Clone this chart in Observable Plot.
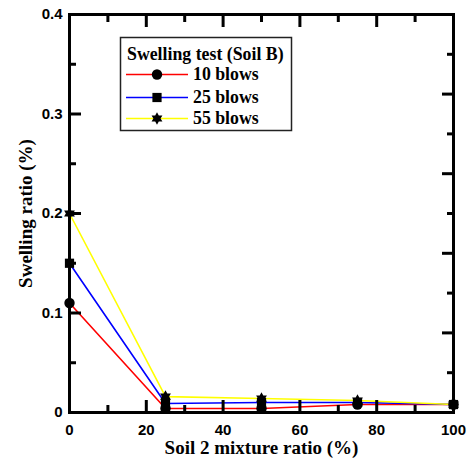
<!DOCTYPE html>
<html><head><meta charset="utf-8">
<script src="https://cdn.jsdelivr.net/npm/d3@7"></script>
<script src="https://cdn.jsdelivr.net/npm/@observablehq/plot@0.6"></script>
<style>
body{margin:0;background:#fff;}
#wrap{position:relative;width:471px;height:459px;}
#legend{position:absolute;left:0;top:0;pointer-events:none;}
</style></head><body><div id="wrap"></div>
<script>
const mixRatio = [0, 25, 50, 75, 100];
const seriesNames = ["10 blows", "25 blows", "55 blows"];
const blows10 = [0.11, 0.004, 0.004, 0.008, 0.008];
const blows25 = [0.15, 0.009, 0.010, 0.010, 0.008];
const blows55 = [0.20, 0.016, 0.014, 0.012, 0.008];
const seriesColors = ["#ff0000", "#0000ff", "#ffff00"];
const xMajor = [0, 20, 40, 60, 80, 100];
const xMinor = [10, 30, 50, 70, 90];
const yMajor = [0, 0.1, 0.2, 0.3, 0.4];
const yMinor = [0.05, 0.15, 0.25, 0.35];
const yRightMajor = [0.08, 0.16, 0.24, 0.32];
const yRightMinor = [0.04, 0.12, 0.20, 0.28, 0.36];
const xLabel = "Soil 2 mixture ratio (%)";
const yLabel = "Swelling ratio (%)";
const legendTitle = "Swelling test (Soil B)";

const hexagram = {
  draw(ctx, size) {
    const R = Math.sqrt(size / Math.PI) * 1.2, r = R / Math.sqrt(3);
    for (let i = 0; i < 12; i++) {
      const a = -Math.PI / 2 + i * Math.PI / 6, rr = i % 2 ? r : R;
      const px = rr * Math.cos(a), py = rr * Math.sin(a);
      if (i) ctx.lineTo(px, py); else ctx.moveTo(px, py);
    }
    ctx.closePath();
  }
};
const seriesSymbols = [d3.symbolCircle, d3.symbolSquare, hexagram];
const symbolMap = Object.fromEntries(seriesNames.map((s, i) => [s, seriesSymbols[i]]));
const seriesValues = [blows10, blows25, blows55];
const table = seriesNames.flatMap((s, i) => mixRatio.map((m, j) => ({series: s, ratio: m, value: seriesValues[i][j]})));

const sans = "'Liberation Sans', Arial, sans-serif";
const serif = "'Liberation Serif', 'Times New Roman', serif";
const R = 5.2;

const chart = Plot.plot({
  width: 471, height: 459,
  marginLeft: 69, marginRight: 18, marginTop: 14, marginBottom: 47,
  x: {domain: [0, 100]},
  y: {domain: [0, 0.4]},
  color: {domain: seriesNames, range: seriesColors},
  style: {background: "#fff", overflow: "visible"},
  marks: [
    Plot.line(table, {x: "ratio", y: "value", z: "series", stroke: "series", strokeWidth: 1.6}),
    Plot.dot(table, {x: "ratio", y: "value", symbol: d => symbolMap[d.series], r: R, fill: "black", stroke: "none"}),
    Plot.axisX(xMajor, {anchor: "bottom", tickSize: 0, tickPadding: 12, fontSize: 15, fontWeight: "bold", fontFamily: sans, fill: "black", label: null, tickFormat: d => String(d)}),
    Plot.axisY(yMajor, {anchor: "left", tickSize: 0, tickPadding: 7, fontSize: 15, fontWeight: "bold", fontFamily: sans, fill: "black", label: null, tickFormat: d => d === 0 ? "0" : d.toFixed(1)}),
    Plot.axisX(xMajor, {anchor: "bottom", tickSize: -12, fill: "none", label: null, strokeWidth: 3}),
    Plot.axisX(xMinor, {anchor: "bottom", tickSize: -7, fill: "none", label: null, strokeWidth: 3}),
    Plot.axisX(xMajor, {anchor: "top", tickSize: -12, fill: "none", label: null, strokeWidth: 3}),
    Plot.axisX(xMinor, {anchor: "top", tickSize: -7, fill: "none", label: null, strokeWidth: 3}),
    Plot.axisY(yMajor, {anchor: "left", tickSize: -12, fill: "none", label: null, strokeWidth: 3}),
    Plot.axisY(yMinor, {anchor: "left", tickSize: -7, fill: "none", label: null, strokeWidth: 3}),
    Plot.axisY(yRightMajor, {anchor: "right", tickSize: -12, fill: "none", label: null, strokeWidth: 3}),
    Plot.axisY(yRightMinor, {anchor: "right", tickSize: -7, fill: "none", label: null, strokeWidth: 3}),
    Plot.frame({stroke: "black", strokeWidth: 3}),
    Plot.text([xLabel], {text: d => d, frameAnchor: "bottom", dy: 35, textAnchor: "middle", lineAnchor: "middle", fontSize: 19, fontWeight: "bold", fontFamily: serif, fill: "black"}),
    Plot.text([yLabel], {text: d => d, frameAnchor: "left", dx: -44, rotate: -90, textAnchor: "middle", lineAnchor: "middle", fontSize: 19, fontWeight: "bold", fontFamily: serif, fill: "black"})
  ]
});

const wrap = document.getElementById("wrap");
wrap.appendChild(chart);

// Legend overlay (inside plot area, upper left)
const lg = d3.select(wrap).append("svg").attr("id", "legend").attr("width", 471).attr("height", 459);
lg.append("rect").attr("x", 120.5).attr("y", 37.5).attr("width", 171).attr("height", 93)
  .attr("fill", "white").attr("stroke", "#222").attr("stroke-width", 1.5);
lg.append("text").attr("x", 127).attr("y", 60).text(legendTitle)
  .attr("font-family", serif).attr("font-weight", "bold").attr("font-size", 17.8).attr("fill", "black");
const rowY = [74.5, 97.5, 118.5];
seriesNames.forEach((s, i) => {
  const g = lg.append("g");
  g.append("line").attr("x1", 126).attr("x2", 188).attr("y1", rowY[i]).attr("y2", rowY[i])
    .attr("stroke", seriesColors[i]).attr("stroke-width", 1.6);
  g.append("path").attr("d", d3.symbol(seriesSymbols[i], Math.PI * R * R)())
    .attr("transform", `translate(157,${rowY[i]})`).attr("fill", "black");
  g.append("text").attr("x", 193).attr("y", rowY[i] + 5.5).text(s)
    .attr("font-family", serif).attr("font-weight", "bold").attr("font-size", 17.8).attr("fill", "black");
});
</script>
</body></html>
